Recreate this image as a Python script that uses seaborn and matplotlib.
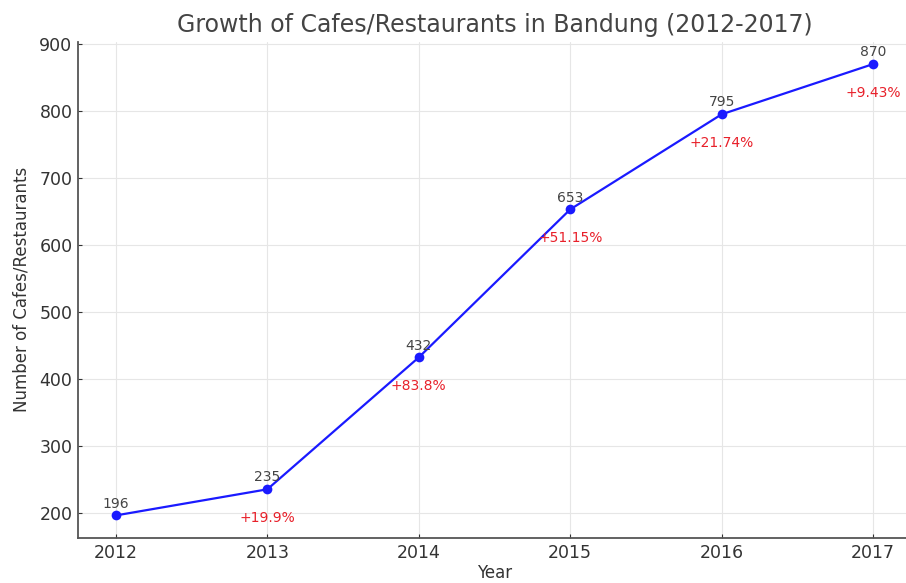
import matplotlib
matplotlib.use("Agg")
import matplotlib.pyplot as plt
import seaborn as sns
import pandas as pd

years = [2012, 2013, 2014, 2015, 2016, 2017]
counts = [196, 235, 432, 653, 795, 870]
growth_labels = ["", "+19.9%", "+83.8%", "+51.15%", "+21.74%", "+9.43%"]

sns.set_theme(style="whitegrid")
plt.rcParams["font.family"] = ["DejaVu Sans"]
plt.rcParams["text.color"] = "#333333"
plt.rcParams["axes.labelcolor"] = "#333333"
plt.rcParams["xtick.color"] = "#333333"
plt.rcParams["ytick.color"] = "#333333"

df = pd.DataFrame({"Year": years, "Count": counts})

fig = plt.figure(figsize=(9.06, 5.83), dpi=100)
ax = fig.add_axes([0.0861, 0.0772, 0.9194, 0.8516])

sns.lineplot(data=df, x="Year", y="Count", ax=ax, color="#1a1aff",
             marker="o", markersize=7, markeredgewidth=0, linewidth=1.6)

for x, y, g in zip(years, counts, growth_labels):
    ax.annotate(str(y), (x, y), xytext=(0, 3.5), textcoords="offset points",
                ha="center", va="bottom", fontsize=10, color="#444444")
    if g:
        ax.annotate(g, (x, y), xytext=(0, -15.5), textcoords="offset points",
                    ha="center", va="top", fontsize=10, color="#e8202a")

ax.set_xticks(years)
ax.set_xticklabels([str(y) for y in years])
ax.set_title("Growth of Cafes/Restaurants in Bandung (2012-2017)", fontsize=17,
             color="#444444", pad=7)
ax.set_xlabel("Year", fontsize=12, labelpad=2)
ax.set_ylabel("Number of Cafes/Restaurants", fontsize=12, labelpad=6)
ax.tick_params(axis="both", labelsize=12.5, length=3, width=0.8, direction="in",
               pad=4, bottom=True, left=True)
ax.grid(True, color="#e6e6e6", linewidth=0.8)
for side in ["top", "right"]:
    ax.spines[side].set_visible(False)
for side in ["left", "bottom"]:
    ax.spines[side].set_color("#555555")
    ax.spines[side].set_linewidth(1.3)

fig.savefig("out.png", dpi=100)
